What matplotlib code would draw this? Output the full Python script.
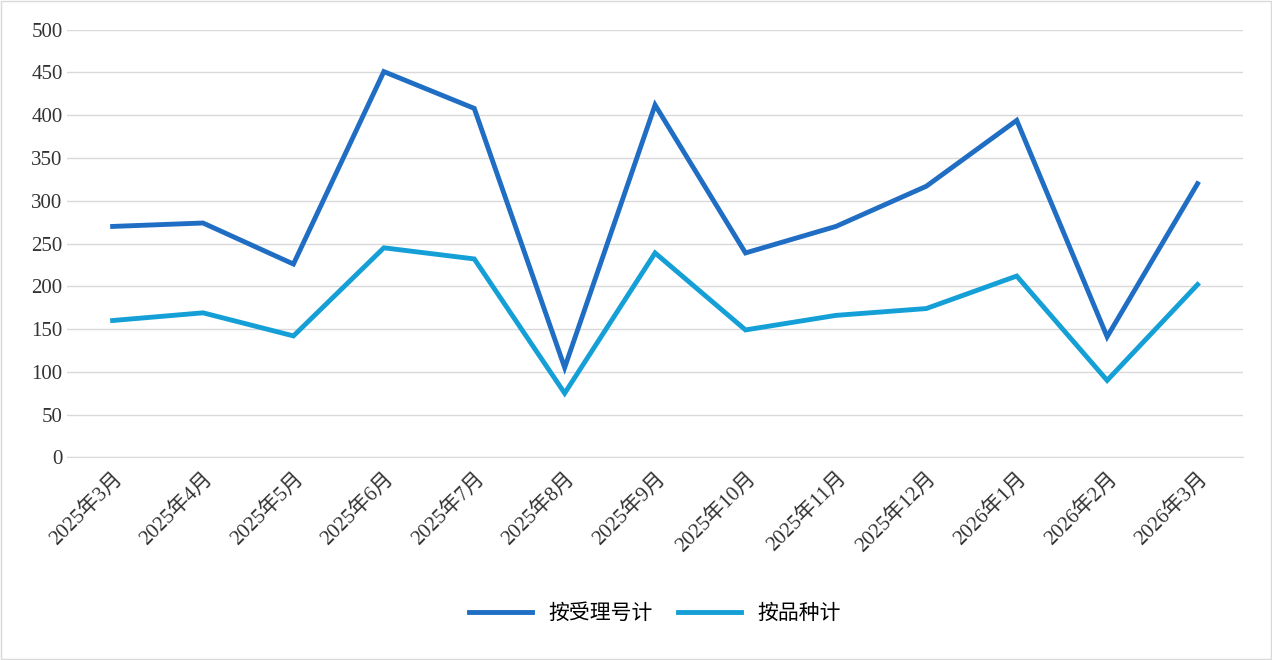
import matplotlib
matplotlib.use("Agg")
import matplotlib.pyplot as plt

months = ["2025年3月","2025年4月","2025年5月","2025年6月","2025年7月","2025年8月","2025年9月",
          "2025年10月","2025年11月","2025年12月","2026年1月","2026年2月","2026年3月"]
by_accept = [270, 274, 226, 451, 408, 105, 412, 239, 270, 317, 394, 141, 320]
by_variety = [160, 169, 142, 245, 232, 75, 239, 149, 166, 174, 212, 90, 202]
yticks = [0, 50, 100, 150, 200, 250, 300, 350, 400, 450, 500]

plt.rcParams['font.family'] = ['Liberation Serif', 'Noto Sans CJK SC']
fig = plt.figure(figsize=(12.72, 6.6), dpi=100)
ax = fig.add_axes([0.053, 0.307, 0.924, 0.648])
x = range(len(months))
ax.plot(x, by_accept, color="#1f6ec4", lw=3.5, label="按受理号计", solid_joinstyle="miter")
ax.plot(x, by_variety, color="#14a0d6", lw=3.5, label="按品种计", solid_joinstyle="miter")
ax.set_xlim(-0.5, len(months) - 0.5)
ax.set_ylim(0, 500)
ax.set_yticks(yticks)
ax.grid(axis="y", color="#d9d9d9", lw=1)
ax.set_axisbelow(True)
for s in ["top", "right", "left"]:
    ax.spines[s].set_visible(False)
ax.spines["bottom"].set_color("#d9d9d9")
ax.tick_params(axis="both", length=0, labelsize=15, colors="#333333")
ax.set_xticks(list(x))
ax.set_xticklabels(months, rotation=45, ha="right", rotation_mode="anchor")
ax.tick_params(axis="x", pad=8)
ax.legend(loc="upper center", bbox_to_anchor=(0.5, -0.3), ncol=2, frameon=False,
          fontsize=15, handlelength=3, columnspacing=1.2)
fig.patches.append(plt.Rectangle((0.001, 0.001), 0.998, 0.998, transform=fig.transFigure,
                                 fill=False, edgecolor="#d9d9d9", lw=1))
fig.savefig("out.png", dpi=100)
